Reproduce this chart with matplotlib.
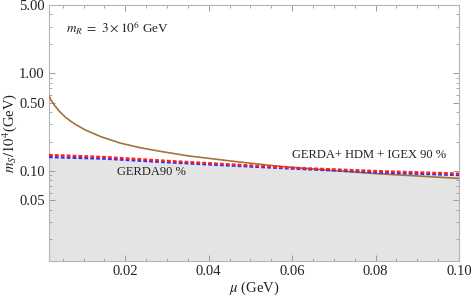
import matplotlib
matplotlib.use("Agg")
import matplotlib.pyplot as plt
from matplotlib.ticker import FixedLocator, NullFormatter

plt.rcParams['font.family'] = ['Liberation Serif', 'DejaVu Serif']
plt.rcParams['mathtext.fontset'] = 'stix'

# Brown solid curve
mu_brown = [0.0017, 0.0022, 0.0031, 0.0042, 0.0055, 0.0067, 0.0080, 0.0104,
            0.0142, 0.0188, 0.0236, 0.0284, 0.0350, 0.0450, 0.0550, 0.0600,
            0.0700, 0.0800, 0.0900, 0.100]
ms_brown = [0.590, 0.530, 0.466, 0.408, 0.360, 0.328, 0.301, 0.263,
            0.224, 0.193, 0.173, 0.159, 0.143, 0.127, 0.114, 0.109,
            0.101, 0.094, 0.089, 0.084]

# Dashed curves: GERDA+HDM+IGEX (red) and GERDA (blue)
mu_dash = [0.0017, 0.015, 0.030, 0.045, 0.060, 0.080, 0.100]
ms_red = [0.146, 0.139, 0.127, 0.117, 0.108, 0.100, 0.094]
ms_blue = [0.139, 0.134, 0.123, 0.114, 0.106, 0.097, 0.091]

x_ticks = [0.02, 0.04, 0.06, 0.08, 0.10]
x_ticklabels = ["0.02", "0.04", "0.06", "0.08", "0.10"]
y_ticks = [0.05, 0.10, 0.50, 1.00, 5.00]
y_ticklabels = ["0.05", "0.10", "0.50", "1.00", "5.00"]

fig = plt.figure(figsize=(4.73, 2.99), dpi=100)
ax = fig.add_axes([49/473, 38/299, 410/473, 256/299])

ymin, ymax = 0.012, 5.0
xmin, xmax = 0.0017, 0.100

ax.fill_between(mu_dash, ymin, ms_blue, color='#e4e4e4', lw=0, zorder=1)
ax.plot(mu_brown, ms_brown, color='#a3733f', lw=1.2, zorder=3)
ax.plot(mu_dash, ms_blue, color='#2a2aff', lw=1.7, ls=(0, (1.6, 0.9)), zorder=4)
ax.plot(mu_dash, ms_red, color='#ff2020', lw=1.7, ls=(0, (1.6, 0.9)), zorder=5)

ax.set_yscale('log')
ax.set_xlim(xmin, xmax)
ax.set_ylim(ymin, ymax)

ax.set_xticks(x_ticks)
ax.set_xticklabels(x_ticklabels)
minor_x = [0.005 * i for i in range(1, 21) if i % 4 != 0]
ax.xaxis.set_minor_locator(FixedLocator(minor_x))
ax.xaxis.set_minor_formatter(NullFormatter())

ax.yaxis.set_major_locator(FixedLocator(y_ticks))
ax.set_yticklabels(y_ticklabels)
minor_y = [0.02, 0.03, 0.04, 0.06, 0.07, 0.08, 0.09, 0.2, 0.3, 0.4,
           0.6, 0.7, 0.8, 0.9, 2, 3, 4]
ax.yaxis.set_minor_locator(FixedLocator(minor_y))
ax.yaxis.set_minor_formatter(NullFormatter())

for s in ax.spines.values():
    s.set_color('#b5b5b5')
    s.set_linewidth(0.8)
ax.tick_params(which='both', direction='in', top=True, right=True,
               color='#9a9a9a', labelsize=10.5, labelcolor='#222222', pad=3)
ax.tick_params(which='major', length=4, width=0.7)
ax.tick_params(which='minor', length=2.2, width=0.6)

ax.set_xlabel(r"$\mu$ (GeV)", fontsize=10.5, color='#222222', labelpad=1)
ax.set_ylabel(r"$m_S/10^4$(GeV)", fontsize=10.5, color='#222222', labelpad=0)

ax.text(0.0058, 2.9, r"$m_R\ =\ 3\times 10^6$ GeV", fontsize=9.5,
        color='#222222', va='center', ha='left')
ax.text(0.060, 0.146, "GERDA+ HDM + IGEX 90 %", fontsize=9,
        color='#222222', va='center', ha='left')
ax.text(0.018, 0.0977, "GERDA90 %", fontsize=9,
        color='#222222', va='center', ha='left')

fig.savefig("out.png", dpi=100)
